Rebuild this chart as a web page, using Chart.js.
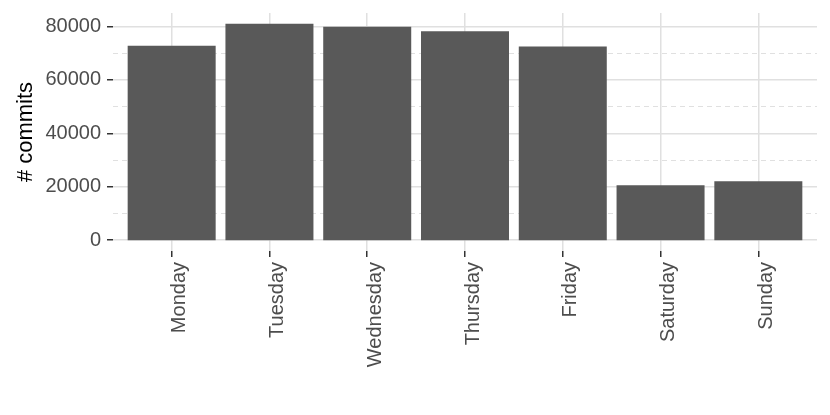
<!DOCTYPE html>
<html>
<head>
<meta charset="utf-8">
<script src="https://cdn.jsdelivr.net/npm/chart.js@4/dist/chart.umd.min.js"></script>
<style>
	html, body { margin: 0; padding: 0; background: #fff; }
	#wrap { width: 830px; height: 415px; position: relative; }
</style>
</head>
<body>
<div id="wrap"><canvas id="graphCommits"></canvas></div>
<script>
// données
const days = ["Monday", "Tuesday", "Wednesday", "Thursday", "Friday", "Saturday", "Sunday"];
const commits = [72800, 81000, 79900, 78200, 72500, 20600, 22100];
const majorTicks = [0, 20000, 40000, 60000, 80000];
const minorTicks = [10000, 30000, 50000, 70000];

const yMin = -4050;
const yMax = 85050;
const police = "'Liberation Sans', Arial, sans-serif";
const gris = "#e0e0e0";

window.addEventListener("load", () => {
	const canva = document.querySelector("#graphCommits");
	new Chart(canva, {
		type: "bar",
		data: {
			datasets: [
				{
					label: "# commits",
					data: commits.map((v, i) => ({ x: i, y: v })),
					backgroundColor: "#595959",
					borderWidth: 0,
					barPercentage: 0.9,
					categoryPercentage: 1,
				},
			],
		},
		options: {
			responsive: true,
			maintainAspectRatio: false,
			animation: false,
			layout: { padding: { top: 13, right: 13, left: 0, bottom: 0 } },
			plugins: {
				legend: { display: false },
				tooltip: { enabled: false },
			},
			scales: {
				x: {
					type: "linear",
					offset: false,
					min: -0.6,
					max: 6.6,
					afterBuildTicks: (axis) => {
						axis.ticks = days.map((d, i) => ({ value: i }));
					},
					afterFit: (axis) => {
						axis.height = 164;
						axis.paddingLeft = 0;
						axis.paddingRight = 0;
					},
					border: { display: false },
					grid: {
						offset: false,
						color: gris,
						lineWidth: 1.5,
						tickColor: "#333333",
						tickWidth: 1.5,
						tickLength: 6,
					},
					ticks: {
						autoSkip: false,
						minRotation: 90,
						maxRotation: 90,
						padding: 5,
						labelOffset: 8,
						color: "#4d4d4d",
						font: { family: police, size: 20 },
						callback: (value) => days[value] ?? "",
					},
				},
				yMinor: {
					type: "linear",
					position: "left",
					min: yMin,
					max: yMax,
					afterBuildTicks: (axis) => {
						axis.ticks = minorTicks.map((v) => ({ value: v }));
					},
					afterFit: (axis) => {
						axis.width = 0;
						axis.paddingTop = 0;
						axis.paddingBottom = 0;
					},
					border: { display: false, dash: [5, 4] },
					grid: { color: gris, lineWidth: 1, drawTicks: false },
					ticks: { display: false },
				},
				y: {
					type: "linear",
					position: "left",
					min: yMin,
					max: yMax,
					afterBuildTicks: (axis) => {
						axis.ticks = majorTicks.map((v) => ({ value: v }));
					},
					afterFit: (axis) => {
						axis.width = 113;
						axis.paddingTop = 0;
						axis.paddingBottom = 0;
					},
					border: { display: false },
					grid: {
						color: gris,
						lineWidth: 1.5,
						tickColor: "#333333",
						tickWidth: 1.5,
						tickLength: 6,
					},
					title: {
						display: true,
						text: "# commits",
						color: "#000000",
						font: { family: police, size: 22 },
						padding: { top: 13, bottom: 0 },
					},
					ticks: {
						padding: 6,
						color: "#4d4d4d",
						font: { family: police, size: 20 },
						callback: (value) => String(value),
					},
				},
			},
		},
	});
});
</script>
</body>
</html>
